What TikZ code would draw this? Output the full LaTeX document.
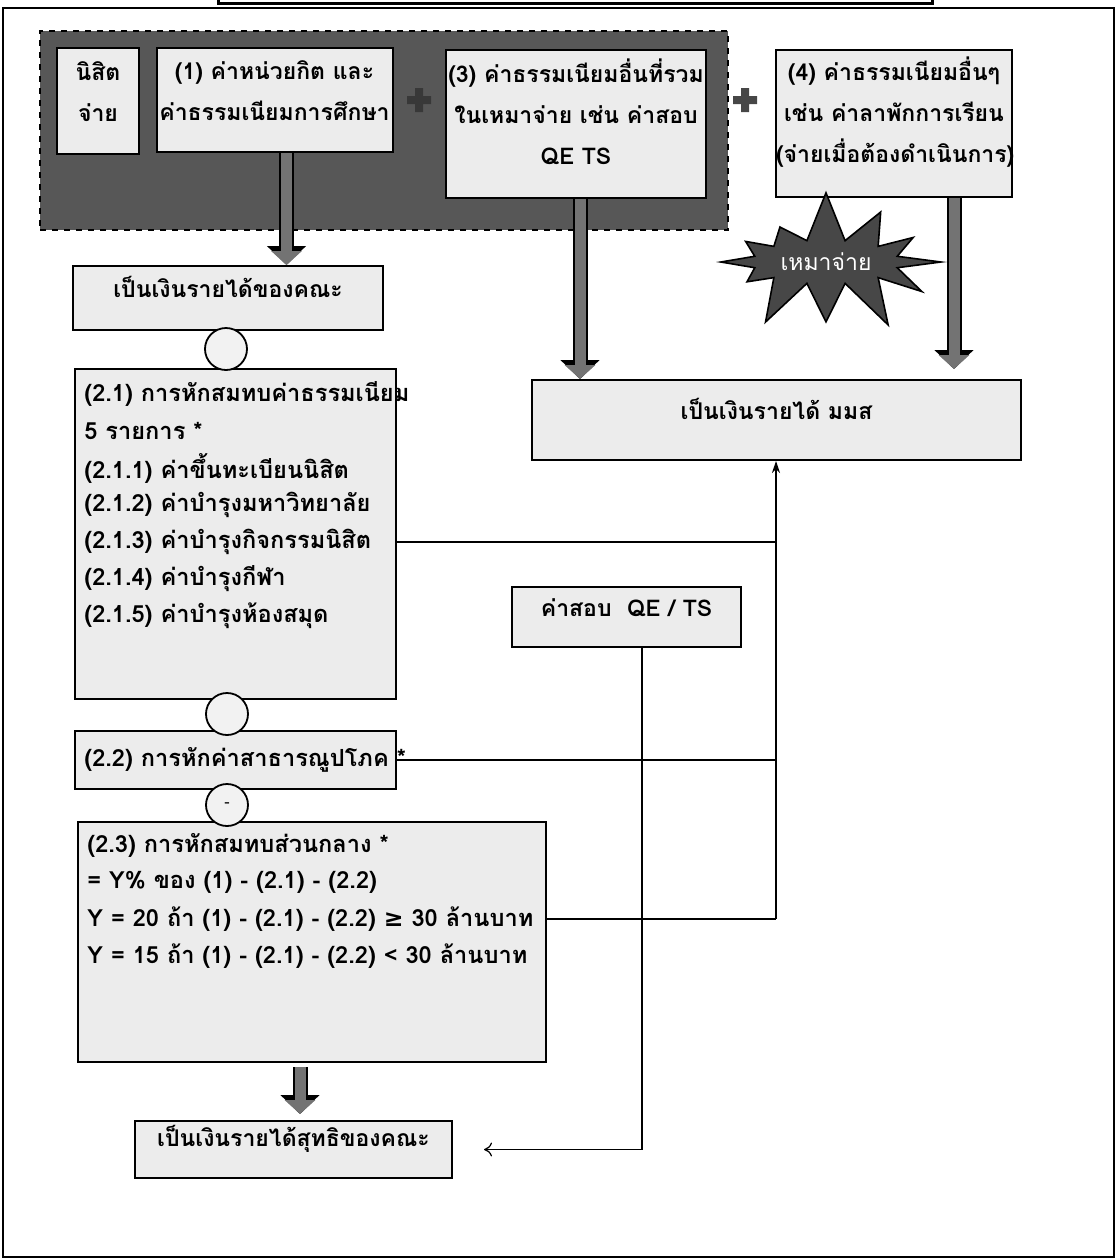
\documentclass[tikz,border=0pt]{standalone}
\usepackage{fontspec}
\newfontfamily\thaifont[Script=Thai]{Loma}
\newfontfamily\symfont{DejaVu Sans}
\usetikzlibrary{fit,arrows.meta,shapes.symbols}

\begin{document}
\begin{tikzpicture}[x=0.5pt, y=-0.5pt,
  box/.style={draw=black, line width=1pt, fill=gray!15, inner sep=0pt, align=center,
    font=\thaifont\bfseries\fontsize{11.5}{20.5}\selectfont},
  dark/.style={draw=black, dashed, line width=1.2pt, fill=black!66, inner sep=0pt},
  txt/.style={anchor=west, inner sep=0pt, font=\thaifont\bfseries\fontsize{11.8}{18.5}\selectfont},
  circ/.style={circle, draw=black, line width=0.9pt, fill=gray!10, minimum size=21pt, inner sep=0pt,
    font=\thaifont\fontsize{8}{8}\selectfont},
  burst/.style={starburst, starburst points=12, starburst point height=26pt, random starburst=7,
    draw=black, line width=0.8pt, fill=black!72, text=white, minimum width=64pt, minimum height=40pt,
    font=\thaifont\fontsize{11.5}{12}\selectfont},
  blk/.style={line width=5.5pt, draw=black!55, -{Triangle[width=15pt,length=7pt]},
    preaction={draw=black, line width=7.5pt, -{Triangle[width=19pt,length=9.5pt]}}},
  ln/.style={line width=0.6pt}
]
\useasboundingbox (0,0) rectangle (1117,1260);

%% outer frame and cut-off header box
\draw[line width=1pt] (3,8) rectangle (1114,1257);
\draw[line width=1.5pt, fill=white] (218,-20) rectangle (932,3);

%% what the student pays
\node[dark, fit={(40,31) (728,230)}] (pay) {};
\node[box, fit={(57,48) (139,154)}] (nisit) {นิสิต\\จ่าย};
\node[box, fit={(153,48) (396,152)}, text width=118pt] (fee1) {(1) ค่าหน่วยกิต และ\\ค่าธรรมเนียมการศึกษา};
\node[box, fit={(442,50) (710,198)}, text width=130pt] (fee3) {(3) ค่าธรรมเนียมอื่นที่รวม\\ในเหมาจ่าย เช่น ค่าสอบ\\QE TS};
\node[box, fit={(773,50) (1015,197)}, text width=118pt] (fee4) {(4) ค่าธรรมเนียมอื่นๆ\\เช่น ค่าลาพักการเรียน\\(จ่ายเมื่อต้องดำเนินการ)};
\foreach \px/\py/\c in {419/100/black!78, 745/100/black!72} {
  \fill[\c] (\px-12,\py-4) rectangle (\px+12,\py+4) (\px-4,\py-12) rectangle (\px+4,\py+12);
}
\node[burst] (lump) at (826,262) {เหมาจ่าย};

%% faculty side
\node[box, fit={(73,266) (383,330)}] (fac) {เป็นเงินรายได้ของคณะ};
\node[box, fit={(75,369) (396,699)}] (d21) {};
\foreach \t [count=\i] in {{(2.1) การหักสมทบค่าธรรมเนียม}, {5 รายการ *}, {(2.1.1) ค่าขึ้นทะเบียนนิสิต},
    {(2.1.2) ค่าบำรุงมหาวิทยาลัย}, {(2.1.3) ค่าบำรุงกิจกรรมนิสิต}, {(2.1.4) ค่าบำรุงกีฬา},
    {(2.1.5) ค่าบำรุงห้องสมุด}} {
  \node[txt] (a\i) at ([shift={(10,{26+(\i-1)*37})}]d21.north west) {\t};
}
\node[box, fit={(75,731) (396,789)}] (d22) {};
\node[txt] (b1) at ([xshift=5pt]d22.west) {(2.2) การหักค่าสาธารณูปโภค *};
\node[box, fit={(78,822) (546,1062)}] (d23) {};
\foreach \t [count=\i] in {{(2.3) การหักสมทบส่วนกลาง *}, {= Y\% ของ (1) - (2.1) - (2.2)},
    {Y = 20 ถ้า (1) - (2.1) - (2.2) {\symfont ≥} 30 ล้านบาท}, {Y = 15 ถ้า (1) - (2.1) - (2.2) < 30 ล้านบาท}} {
  \node[txt] (e\i) at ([shift={(10,{24+(\i-1)*37})}]d23.north west) {\t};
}
\node[box, fit={(135,1121) (452,1178)}] (net) {เป็นเงินรายได้สุทธิของคณะ};
\node[circ] (c1) at (226,349) {};
\node[circ] (c2) at (227,714) {};
\node[circ] (c3) at (227,805) {-};

%% university side
\node[box, fit={(532,380) (1021,460)}] (msu) {เป็นเงินรายได้ มมส};
\node[box, fit={(512,587) (741,647)}] (qe) {ค่าสอบ\ \ QE / TS};

%% block arrows
\draw[blk] ([xshift=6pt]fee1.south) -- ([xshift=6pt]fee1.south |- fac.north);
\draw[blk] ([xshift=2pt]fee3.south) -- ([xshift=2pt]fee3.south |- msu.north);
\draw[blk, shorten >=5pt] ([xshift=30pt]fee4.south) -- ([xshift=30pt]fee4.south |- msu.north);
\draw[blk, shorten <=2pt, shorten >=3pt] ([xshift=-6pt]d23.south) -- ([xshift=-6pt]d23.south |- net.north);

%% deductions to the university
\coordinate (j1) at (776,0 |- a5);
\coordinate (j2) at (776,0 |- d22);
\coordinate (j3) at (776,0 |- e3);
\draw[ln] (j1 -| d21.east) -- (j1);
\draw[ln] (j2 -| d22.east) -- (j2);
\draw[ln] (j3 -| d23.east) -- (j3);
\draw[ln, -{Stealth[length=6pt,width=4pt]}] (j3) -- (j3 |- msu.south);

%% exam fee back to the faculty
\coordinate (k) at (642,0 |- net);
\coordinate (ktip) at (484,0 |- net);
\draw[ln, -{To[length=4pt,width=7pt]}] (k |- qe.south) -- (k) -- (ktip);
\end{tikzpicture}
\end{document}
